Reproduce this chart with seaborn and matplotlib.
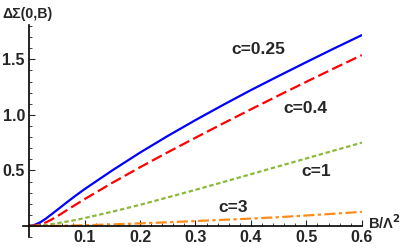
import matplotlib
matplotlib.use("Agg")
import matplotlib.pyplot as plt
import seaborn as sns
import pandas as pd
from matplotlib.ticker import MultipleLocator

# values
B = [0.0, 0.01, 0.02, 0.03, 0.04, 0.05, 0.06, 0.07, 0.08, 0.09, 0.1,
     0.15, 0.2, 0.25, 0.3, 0.35, 0.4, 0.45, 0.5, 0.55, 0.6]
c025 = [0.0, 0.01, 0.032, 0.065, 0.103, 0.142, 0.181, 0.22, 0.258, 0.295, 0.331,
        0.50, 0.66, 0.81, 0.953, 1.09, 1.223, 1.35, 1.475, 1.598, 1.718]
c04 = [0.0, 0.003, 0.013, 0.031, 0.056, 0.085, 0.116, 0.148, 0.179, 0.21, 0.241,
       0.388, 0.528, 0.663, 0.794, 0.923, 1.05, 1.175, 1.298, 1.419, 1.538]
c1 = [0.0, 0.001, 0.004, 0.009, 0.016, 0.023, 0.032, 0.041, 0.05, 0.06, 0.071,
      0.128, 0.19, 0.257, 0.325, 0.395, 0.466, 0.537, 0.608, 0.679, 0.75]
c3 = [0.0, 0.0, 0.0002, 0.0005, 0.001, 0.0015, 0.002, 0.003, 0.004, 0.005, 0.0065,
      0.014, 0.023, 0.033, 0.044, 0.055, 0.066, 0.079, 0.094, 0.11, 0.127]

labels = ["c=0.25", "c=0.4", "c=1", "c=3"]
label_pos = [(0.413, 1.59), (0.498, 1.06), (0.518, 0.49), (0.368, 0.17)]
colors = ["#0000FF", "#FF0000", "#8DB83B", "#FF8C1A"]
dashes = [None, (5, 2), (2, 1.2), (5, 1.5, 1.5, 1.5)]

sns.set_style("white")
plt.rcParams["font.family"] = ["Liberation Sans", "DejaVu Sans"]
plt.rcParams["font.weight"] = "bold"

fig = plt.figure(figsize=(4.07, 2.49), dpi=100)
ax = fig.add_axes([0.0565, 0.048, 0.8325, 0.852])

for ys, col, d in zip([c025, c04, c1, c3], colors, dashes):
    df = pd.DataFrame({"B": B, "S": ys})
    sns.lineplot(data=df, x="B", y="S", color=col, lw=1.6, ax=ax)
    if d is not None:
        ax.get_lines()[-1].set_dashes(d)

for lab, (x, y) in zip(labels, label_pos):
    ax.text(x, y, lab, fontsize=12.5, fontweight="bold", ha="center", va="center")

ax.set_xlim(-0.011, 0.6)
ax.set_ylim(-0.1, 1.81)
ax.spines["left"].set_position(("data", 0))
ax.spines["bottom"].set_position(("data", 0))
ax.spines["right"].set_visible(False)
ax.spines["top"].set_visible(False)
for s in ["left", "bottom"]:
    ax.spines[s].set_color("black")
    ax.spines[s].set_linewidth(1.2)

ax.xaxis.set_minor_locator(MultipleLocator(0.02))
ax.yaxis.set_minor_locator(MultipleLocator(0.1))
ax.set_xticks([0.1, 0.2, 0.3, 0.4, 0.5, 0.6])
ax.set_yticks([0.5, 1.0, 1.5])
ax.tick_params(which="major", direction="in", length=4, width=0.8, labelsize=11.5,
               bottom=True, left=True, pad=3)
ax.tick_params(which="minor", direction="in", length=2, width=0.6,
               bottom=True, left=True)
for t in ax.get_xticklabels() + ax.get_yticklabels():
    t.set_fontweight("bold")

ax.set_xlabel("")
ax.set_ylabel("")
fig.text(0.005, 0.945, "ΔΣ(0,B)", fontsize=10.2, fontweight="bold", ha="left", va="center")
fig.text(0.905, 0.105, "B/Λ$^\\mathbf{2}$", fontsize=10.5, fontweight="bold", ha="left", va="center")

fig.savefig("out.png", dpi=100)
